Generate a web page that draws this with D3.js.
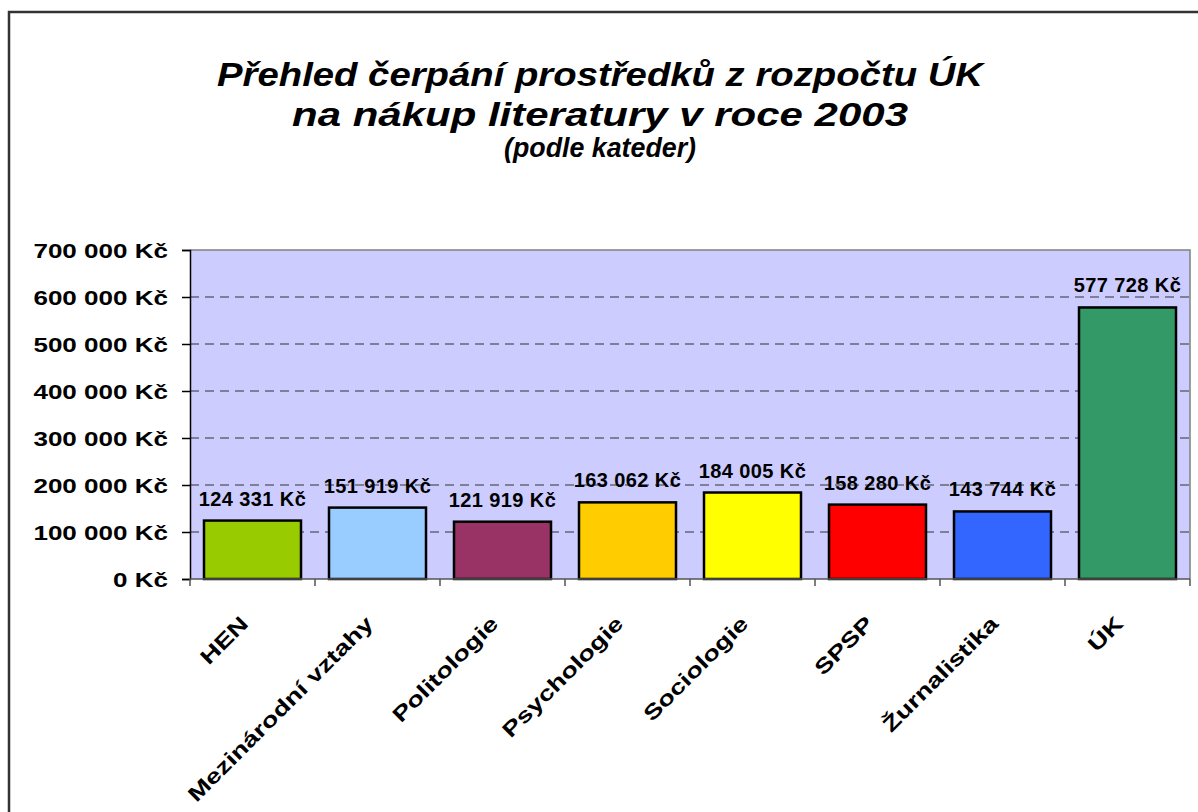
<!DOCTYPE html>
<html><head><meta charset="utf-8">
<script src="https://cdn.jsdelivr.net/npm/d3@7/dist/d3.min.js"></script>
<style>
body{margin:0;background:#fff;}
text{font-family:"Liberation Sans",Arial,sans-serif;}
</style></head>
<body><svg id="c" width="1198" height="812"></svg>
<script>
const categories = ["HEN","Mezinárodní vztahy","Politologie","Psychologie","Sociologie","SPSP","Žurnalistika","ÚK"];
const values = [124331,151919,121919,163062,184005,158280,143744,577728];
const colors = ["#99CC00","#99CCFF","#993366","#FFCC00","#FFFF00","#FF0000","#3366FF","#339966"];
const yTicks = [0,100000,200000,300000,400000,500000,600000,700000];
const titleLines = ["Přehled čerpání prostředků z rozpočtu ÚK","na nákup literatury v roce 2003","(podle kateder)"];

const svg = d3.select("#c");
const fmt = v => d3.format(",")(v).replace(/,/g," ") + " Kč";

// outer frame
svg.append("rect").attr("x",9).attr("y",12).attr("width",1200).attr("height",820)
  .attr("fill","none").attr("stroke","#333").attr("stroke-width",2.5);

// title
const tsize=[34,34,27], tbase=[86,126,157], tlen=[766,616,192];
titleLines.forEach((t,i)=>{
  svg.append("text").attr("x",600).attr("y",tbase[i]).attr("text-anchor","middle")
    .attr("font-size",tsize[i]).attr("font-weight","bold").attr("font-style","italic")
    .attr("textLength",tlen[i]).attr("lengthAdjust","spacingAndGlyphs").text(t);
});

const L=190,R=1190,T=250,B=579;
const x = d3.scaleBand().domain(categories).range([L,R]).paddingInner(0.224).paddingOuter(0.112);
const y = d3.scaleLinear().domain([0,700000]).range([B,T]);

svg.append("rect").attr("x",L).attr("y",T).attr("width",R-L).attr("height",B-T).attr("fill","#CCCCFF");

// grid
svg.append("g").selectAll("line").data(yTicks.filter(v=>v>0&&v<700000)).join("line")
  .attr("x1",L).attr("x2",R).attr("y1",d=>y(d)).attr("y2",d=>y(d))
  .attr("stroke","#333").attr("stroke-width",1).attr("stroke-dasharray","9,6");

// plot border
svg.append("path").attr("d",`M${L},${T}H${R}V${B}`).attr("fill","none").attr("stroke","#808080").attr("stroke-width",1.5);

// bars
svg.append("g").selectAll("rect").data(values).join("rect")
  .attr("x",(d,i)=>x(categories[i])).attr("width",x.bandwidth())
  .attr("y",d=>y(d)).attr("height",d=>B-y(d))
  .attr("fill",(d,i)=>colors[i]).attr("stroke","#000").attr("stroke-width",2.5);

// data labels
svg.append("g").selectAll("text").data(values).join("text")
  .attr("x",(d,i)=>x(categories[i])+x.bandwidth()/2).attr("y",d=>y(d)-15)
  .attr("text-anchor","middle").attr("font-size",20).attr("font-weight","bold")
  .attr("letter-spacing",0.4).text(d=>fmt(d));

// y axis
const ya = svg.append("g").attr("transform",`translate(${L},0)`)
  .call(d3.axisLeft(y).tickValues(yTicks).tickSize(8).tickFormat(""));
ya.select(".domain").attr("stroke","#000").attr("stroke-width",1.5);
ya.selectAll(".tick line").attr("stroke","#000").attr("stroke-width",1.5);
svg.append("g").selectAll("text").data(yTicks).join("text")
  .attr("transform",d=>`translate(168,${y(d)+7.5}) scale(1.24,1)`)
  .attr("text-anchor","end").attr("font-size",21).attr("font-weight","bold").text(d=>fmt(d));

// x axis
const catBounds = d3.range(categories.length+1).map(i=>L+i*(R-L)/categories.length);
svg.append("line").attr("x1",L).attr("x2",R).attr("y1",B).attr("y2",B).attr("stroke","#555").attr("stroke-width",1.5);
svg.append("g").selectAll("line").data(catBounds).join("line")
  .attr("x1",d=>d).attr("x2",d=>d).attr("y1",B).attr("y2",B+7).attr("stroke","#555").attr("stroke-width",1.5);
svg.append("g").selectAll("text").data(categories).join("text")
  .attr("transform",d=>`translate(${x(d)+x.bandwidth()/2-3},${B+46}) rotate(-45) scale(1.3,1)`)
  .attr("text-anchor","end").attr("font-size",21).attr("font-weight","bold").text(d=>d);
</script></body></html>
